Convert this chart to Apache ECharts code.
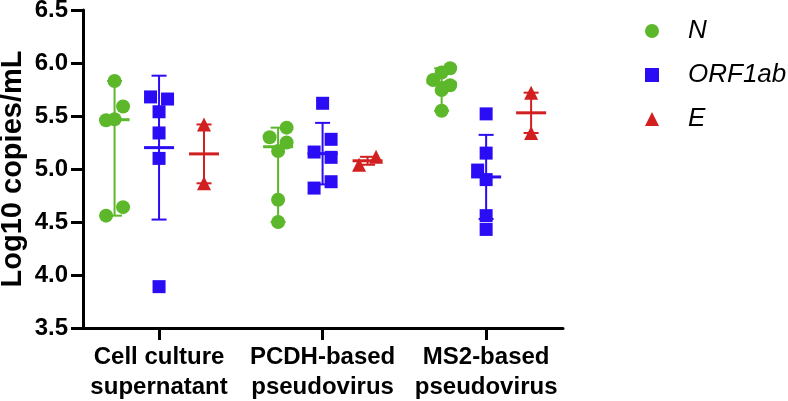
<!DOCTYPE html>
<html>
<head>
<meta charset="utf-8">
<script src="https://cdn.jsdelivr.net/npm/echarts@6/dist/echarts.min.js"></script>
<style>html,body{margin:0;padding:0;background:#fff}#c{width:788px;height:401px}</style>
</head>
<body>
<div id="c"></div>
<script>
// ---- data ----
const categories = ['Cell culture\nsupernatant', 'PCDH-based\npseudovirus', 'MS2-based\npseudovirus'];
const seriesNames = ['N', 'ORF1ab', 'E'];
const yTicks = [3.5, 4.0, 4.5, 5.0, 5.5, 6.0, 6.5];

const N_values = [
  [5.83, 5.59, 5.46, 5.47, 4.64, 4.56],
  [5.39, 5.30, 5.25, 5.17, 4.71, 4.50],
  [5.95, 5.91, 5.84, 5.79, 5.745, 5.55]
];
const N_jitter = [
  [0, 1, -1, 0, 1, -1],
  [1, -1, 1, 0, 0, 0],
  [1, 0, -1, 1, 0, 0]
];
const ORF_values = [
  [5.68, 5.66, 5.54, 5.34, 5.10, 3.89],
  [5.62, 5.28, 5.16, 5.11, 4.88, 4.82],
  [5.52, 5.15, 4.99, 4.90, 4.56, 4.43]
];
const ORF_jitter = [
  [-1, 1, 0, 0, 0, 0],
  [0, 1, -1, 1, 1, -1],
  [0, 0, -1, 0, 0, 0]
];
const E_values = [
  [5.42, 4.865],
  [5.04, 5.115],
  [5.72, 5.34]
];
const E_jitter = [
  [0, 0],
  [-1, 1],
  [0, 0]
];

// ---- stats ----
function mean(a){return a.reduce((s,v)=>s+v,0)/a.length;}
function sd(a){const m=mean(a);return Math.sqrt(a.reduce((s,v)=>s+(v-m)*(v-m),0)/(a.length-1));}
function median(a){const s=[...a].sort((x,y)=>x-y);const n=s.length;return n%2?s[(n-1)/2]:(s[n/2-1]+s[n/2])/2;}
function medRange(a){return [median(a), Math.min(...a), Math.max(...a)];}
function meanSD(a){const m=mean(a),d=sd(a);return [m,m-d,m+d];}
function meanSEM(a){const m=mean(a),e=sd(a)/Math.sqrt(a.length);return [m,m-e,m+e];}

const colors = ['#5cb82a', '#2a0cf5', '#d21f20'];
const symbols = ['circle', 'rect', 'triangle'];
const symbolSizes = [14, 13, 14];
const groupOffset = [-0.272, 0, 0.275];
const jitterStep = 0.052;

const allValues = [N_values, ORF_values, E_values];
const allJitter = [N_jitter, ORF_jitter, E_jitter];
const statFns = [medRange, meanSD, meanSEM];

const series = [];
for (let s = 0; s < 3; s++) {
  const pts = [];
  const bars = [];
  for (let g = 0; g < 3; g++) {
    const vals = allValues[s][g];
    vals.forEach((v, i) => pts.push([g + groupOffset[s] + allJitter[s][g][i] * jitterStep, v]));
    const st = statFns[s](vals);
    bars.push([g + groupOffset[s], st[0], st[1], st[2]]);
  }
  series.push({
    name: seriesNames[s], type: 'scatter', data: pts,
    symbol: symbols[s], symbolSize: symbolSizes[s],
    itemStyle: {color: colors[s], opacity: 1}, z: 2, silent: true
  });
  series.push({
    name: seriesNames[s] + '_err', type: 'custom', data: bars, z: 3, silent: true,
    renderItem: function (params, api) {
      const x = api.value(0);
      const c = api.coord([x, api.value(1)]);
      const lo = api.coord([x, api.value(2)]);
      const hi = api.coord([x, api.value(3)]);
      const col = colors[s];
      const cap = 7.5, mw = 15;
      return {
        type: 'group',
        children: [
          {type: 'line', shape: {x1: c[0], y1: hi[1], x2: c[0], y2: lo[1]}, style: {stroke: col, lineWidth: 2}},
          {type: 'line', shape: {x1: c[0]-cap, y1: hi[1], x2: c[0]+cap, y2: hi[1]}, style: {stroke: col, lineWidth: 2}},
          {type: 'line', shape: {x1: c[0]-cap, y1: lo[1], x2: c[0]+cap, y2: lo[1]}, style: {stroke: col, lineWidth: 2}},
          {type: 'line', shape: {x1: c[0]-mw, y1: c[1], x2: c[0]+mw, y2: c[1]}, style: {stroke: col, lineWidth: 3}}
        ]
      };
    }
  });
}

const chart = echarts.init(document.getElementById('c'));
chart.setOption({
  animation: false,
  backgroundColor: '#fff',
  textStyle: {fontFamily: 'Liberation Sans, Arial, sans-serif'},
  grid: {left: 83, right: 225, top: 10, bottom: 73, containLabel: false, outerBoundsMode: 'none'},
  legend: {
    data: seriesNames.map(n => ({name: n})),
    orient: 'vertical', left: 640, top: 13,
    itemWidth: 14, itemHeight: 14, itemGap: 18,
    textStyle: {fontSize: 26, fontStyle: 'italic', color: '#000', padding: [0, 0, 0, 24], lineHeight: 26},
    selectedMode: false
  },
  xAxis: {
    type: 'value', min: -0.465, max: 2.47,
    splitLine: {show: false},
    axisLine: {show: true, onZero: false, lineStyle: {color: '#000', width: 3}},
    axisTick: {show: true, customValues: [0, 1, 2], length: 12, lineStyle: {color: '#000', width: 3}},
    axisLabel: {
      customValues: [0, 1, 2],
      formatter: v => categories[Math.round(v)],
      fontSize: 24, fontWeight: 'bold', color: '#000', lineHeight: 30, margin: 14
    }
  },
  yAxis: {
    type: 'value', min: 3.5, max: 6.5, interval: 0.5,
    name: 'Log10 copies/mL', nameLocation: 'middle', nameGap: 56, nameMoveOverlap: false,
    nameTextStyle: {fontSize: 29, fontWeight: 'bold', color: '#000'},
    splitLine: {show: false},
    axisLine: {show: true, onZero: false, lineStyle: {color: '#000', width: 3}},
    axisTick: {show: true, length: 12, lineStyle: {color: '#000', width: 3}},
    axisLabel: {
      formatter: v => yTicks.find(t => Math.abs(t - v) < 1e-6).toFixed(1),
      fontSize: 24, fontWeight: 'bold', color: '#000', margin: 15
    }
  },
  series: series
});
</script>
</body>
</html>
